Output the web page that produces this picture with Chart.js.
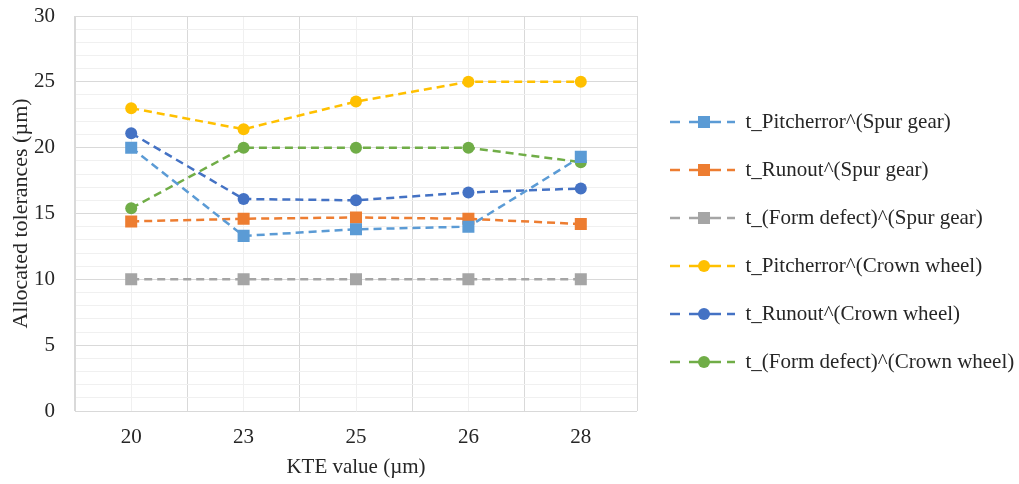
<!DOCTYPE html>
<html>
<head>
<meta charset="utf-8">
<script src="https://cdn.jsdelivr.net/npm/chart.js@4.4.1/dist/chart.umd.min.js"></script>
<style>
  html, body { margin: 0; padding: 0; background: #fff; }
  #wrap { width: 1019px; height: 484px; }
</style>
</head>
<body>
<div id="wrap"><canvas id="c"></canvas></div>
<script>
// KTE values (x categories)
const kteValues = ['20', '23', '25', '26', '28'];

// allocated tolerances
const pitchSpur   = [20.0, 13.3, 13.8, 14.0, 19.3];
const runoutSpur  = [14.4, 14.6, 14.7, 14.6, 14.2];
const formSpur    = [10.0, 10.0, 10.0, 10.0, 10.0];
const pitchCrown  = [23.0, 21.4, 23.5, 25.0, 25.0];
const runoutCrown = [21.1, 16.1, 16.0, 16.6, 16.9];
const formCrown   = [15.4, 20.0, 20.0, 20.0, 18.9];

const seriesNames = [
  't_Pitcherror^(Spur gear)',
  't_Runout^(Spur gear)',
  't_(Form defect)^(Spur gear)',
  't_Pitcherror^(Crown wheel)',
  't_Runout^(Crown wheel)',
  't_(Form defect)^(Crown wheel)'
];
const seriesColors = ['#5B9BD5', '#ED7D31', '#A5A5A5', '#FFC000', '#4472C4', '#70AD47'];
const seriesMarkers = ['rect', 'rect', 'rect', 'circle', 'circle', 'circle'];
const seriesData = [pitchSpur, runoutSpur, formSpur, pitchCrown, runoutCrown, formCrown];

const FONT = '"Liberation Serif", "Times New Roman", serif';
const TXT = '#262626';

// legend swatch: dashed line with the marker in the middle
function swatch(color, marker) {
  const w = 71, h = 14;
  const cv = document.createElement('canvas');
  cv.width = w; cv.height = h;
  const g = cv.getContext('2d');
  g.strokeStyle = color; g.fillStyle = color; g.lineWidth = 2.5;
  [[6, 16], [25, 57], [63, 71]].forEach(([a, b]) => {
    g.beginPath(); g.moveTo(a, h / 2); g.lineTo(b, h / 2); g.stroke();
  });
  if (marker === 'rect') g.fillRect(40 - 6, h / 2 - 6, 12, 12);
  else { g.beginPath(); g.arc(40, h / 2, 6, 0, Math.PI * 2); g.fill(); }
  return cv;
}

const datasets = seriesData.map((d, i) => ({
  label: seriesNames[i],
  data: d,
  borderColor: seriesColors[i],
  backgroundColor: seriesColors[i],
  borderWidth: 2.5,
  borderDash: [8, 5],
  pointStyle: seriesMarkers[i],
  pointRadius: seriesMarkers[i] === 'rect' ? 8.5 : 6,
  pointHoverRadius: seriesMarkers[i] === 'rect' ? 8.5 : 6,
  pointBorderWidth: 0,
  tension: 0,
  legendSwatch: swatch(seriesColors[i], seriesMarkers[i])
}));

new Chart(document.getElementById('c'), {
  type: 'line',
  data: { labels: kteValues, datasets },
  options: {
    responsive: true,
    maintainAspectRatio: false,
    animation: false,
    layout: { padding: { left: 8, top: 0, right: 0, bottom: 0 } },
    plugins: {
      tooltip: { enabled: false },
      legend: {
        position: 'right',
        align: 'center',
        maxWidth: 382,
        labels: {
          usePointStyle: true,
          pointStyleWidth: 71,
          padding: 27,
          color: TXT,
          font: { family: FONT, size: 21 },
          generateLabels: (chart) => chart.data.datasets.map((ds, i) => ({
            text: ds.label,
            pointStyle: ds.legendSwatch,
            fillStyle: ds.backgroundColor,
            strokeStyle: ds.borderColor,
            lineWidth: 0,
            fontColor: TXT,
            hidden: false,
            datasetIndex: i
          }))
        }
      }
    },
    scales: {
      x: {
        type: 'category',
        offset: true,
        grid: { offset: true, color: '#D9D9D9', lineWidth: 1, drawTicks: false },
        border: { display: false },
        ticks: { color: TXT, font: { family: FONT, size: 21 }, padding: 14 },
        title: { display: true, text: 'KTE value (µm)', color: TXT, font: { family: FONT, size: 21 }, padding: { top: 2, bottom: 4 } },
        afterFit: (s) => { s.height = 73; }
      },
      x2: {
        type: 'category',
        position: 'top',
        offset: true,
        grid: { offset: false, color: '#F0F0F0', lineWidth: 1, drawTicks: false },
        border: { display: false },
        ticks: { display: false },
        afterFit: (s) => { s.height = 0; }
      },
      y: {
        min: 0,
        max: 30,
        grid: {
          drawTicks: false,
          color: (c) => (c.tick && c.tick.value % 5 === 0) ? '#D9D9D9' : '#F0F0F0'
        },
        border: { display: true, color: '#D9D9D9' },
        ticks: {
          stepSize: 1,
          autoSkip: false,
          padding: 20,
          color: TXT,
          font: { family: FONT, size: 21 },
          callback: (v) => v % 5 === 0 ? v : ''
        },
        title: { display: true, text: 'Allocated tolerances (µm)', color: TXT, font: { family: FONT, size: 22 }, padding: { top: 0, bottom: 0 } },
        afterFit: (s) => { s.width = 67; s.paddingTop = 16; s.paddingBottom = 0; }
      }
    }
  }
});
</script>
</body>
</html>
